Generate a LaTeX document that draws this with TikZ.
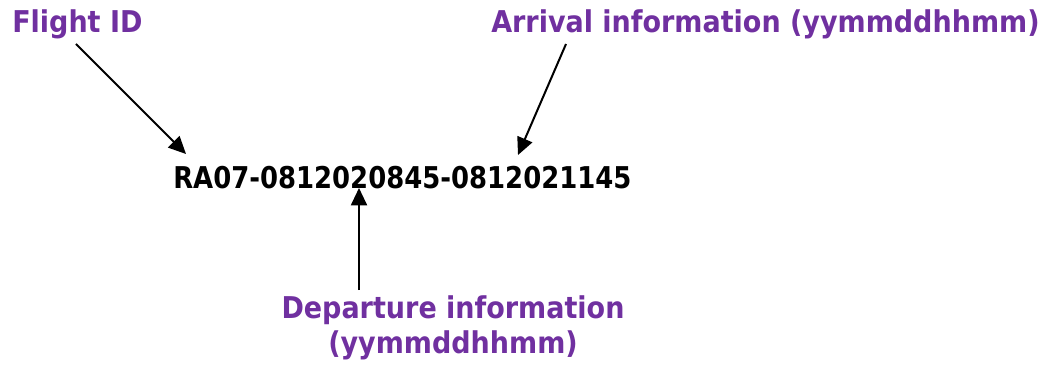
\documentclass[tikz,border=0pt]{standalone}
\usepackage{fontspec}
\setmainfont{DejaVu Sans Condensed}[BoldFont={DejaVu Sans Condensed Bold}]
\newfontfamily\codefont{DejaVu Sans Condensed Bold}[FakeStretch=0.96]
\usetikzlibrary{arrows.meta}
\definecolor{lblpurple}{HTML}{7030A0}
\tikzset{
  lbl/.style={inner sep=0pt, text=lblpurple, font=\bfseries\fontsize{22.5}{26.25}\selectfont, align=center},
  code/.style={inner sep=0pt, text=black, font=\codefont\fontsize{22.5}{26}\selectfont},
  pointer/.style={line width=1.5pt, -{Triangle[length=13pt,width=12pt]}},
}
\begin{document}
\begin{tikzpicture}[x=0.75pt,y=-0.75pt]
\useasboundingbox (0,0) rectangle (1056,367);
\node[lbl, anchor=base west] (flight) at (12,33) {Flight ID};
\node[lbl, anchor=base west] (arrival) at (491,33) {Arrival information (yymmddhhmm)};
\node[code, anchor=base west] (id) at (173,189) {RA07-0812020845-0812021145};
\node[lbl, anchor=base] (departure) at (453,353) {Departure information\\(yymmddhhmm)};
\coordinate (f0) at (76,44);
\coordinate (f1) at (186,154);
\coordinate (a0) at (566,44);
\coordinate (a1) at (518,155);
\coordinate (d0) at (359,290);
\coordinate (d1) at (359,188);
\draw[pointer] (f0) -- (f1);
\draw[pointer] (a0) -- (a1);
\draw[pointer] (d0) -- (d1);
\end{tikzpicture}
\end{document}
